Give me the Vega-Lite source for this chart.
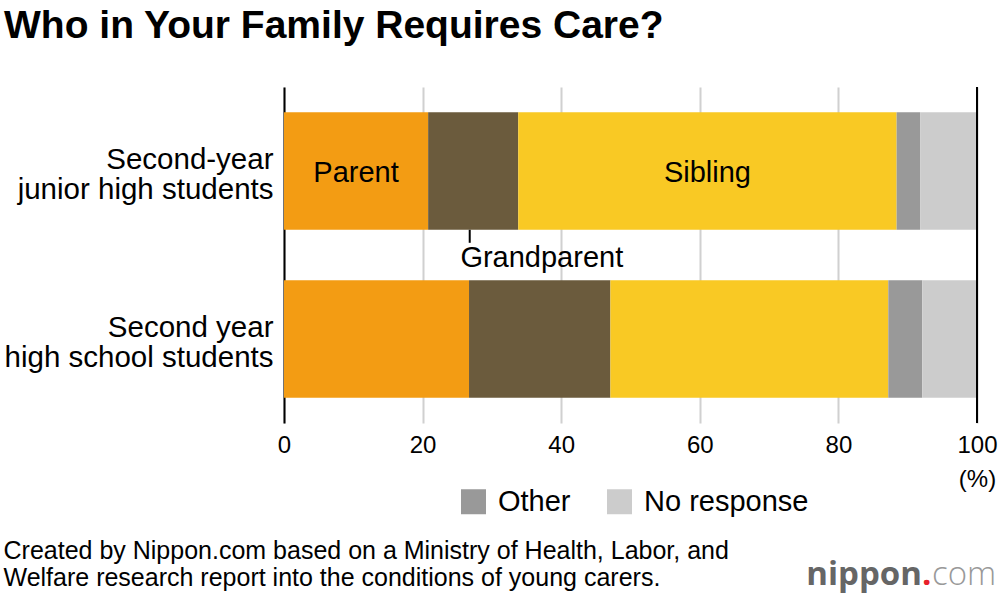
{
  "$schema": "https://vega.github.io/schema/vega-lite/v6.json",
  "width": 693,
  "height": 336,
  "autosize": {"type": "none"},
  "padding": {"left": 284, "top": 87, "right": 23, "bottom": 175},
  "background": "white",
  "title": {
    "text": "Who in Your Family Requires Care?",
    "anchor": "start",
    "frame": "group",
    "dx": -280,
    "offset": 40,
    "font": "Liberation Sans",
    "fontSize": 39,
    "fontWeight": "bold",
    "color": "#000000"
  },
  "config": {
    "view": {"stroke": null},
    "font": "Liberation Sans"
  },
  "datasets": {
    "bars": [
      {"group": "Second-year junior high students", "category": "Parent", "order": 1, "value": 20.8},
      {"group": "Second-year junior high students", "category": "Grandparent", "order": 2, "value": 13.0},
      {"group": "Second-year junior high students", "category": "Sibling", "order": 3, "value": 54.6},
      {"group": "Second-year junior high students", "category": "Other", "order": 4, "value": 3.4},
      {"group": "Second-year junior high students", "category": "No response", "order": 5, "value": 8.2},
      {"group": "Second year high school students", "category": "Parent", "order": 1, "value": 26.7},
      {"group": "Second year high school students", "category": "Grandparent", "order": 2, "value": 20.4},
      {"group": "Second year high school students", "category": "Sibling", "order": 3, "value": 40.1},
      {"group": "Second year high school students", "category": "Other", "order": 4, "value": 4.9},
      {"group": "Second year high school students", "category": "No response", "order": 5, "value": 7.9}
    ],
    "inlabels": [
      {"group": "Second-year junior high students", "label": "Parent", "x": 10.4},
      {"group": "Second-year junior high students", "label": "Sibling", "x": 61.1}
    ],
    "outlabels": [
      {"group": "Second-year junior high students", "label": "Grandparent", "x": 37.2}
    ]
  },
  "layer": [
    {
      "data": {"name": "bars"},
      "mark": {"type": "bar"},
      "encoding": {
        "y": {
          "field": "group",
          "type": "nominal",
          "scale": {
            "domain": ["Second-year junior high students", "Second year high school students"],
            "paddingInner": 0.3,
            "paddingOuter": 0.15
          },
          "axis": {
            "title": null,
            "labelExpr": "datum.value == 'Second-year junior high students' ? ['Second-year', 'junior high students'] : ['Second year', 'high school students']",
            "labelFontSize": 29.5,
            "labelLineHeight": 30,
            "labelPadding": 11,
            "labelOffset": -11,
            "labelLimit": 0,
            "labelColor": "#000000",
            "labelFont": "Liberation Sans",
            "ticks": false,
            "domain": true,
            "domainColor": "#000000",
            "domainWidth": 2
          }
        },
        "x": {
          "field": "value",
          "type": "quantitative",
          "stack": "zero",
          "scale": {"domain": [0, 100], "nice": false},
          "axis": {
            "values": [0, 20, 40, 60, 80, 100],
            "grid": true,
            "gridColor": "#d0d0d0",
            "gridWidth": 2,
            "domain": false,
            "ticks": false,
            "labelFlush": false,
            "labelOverlap": false,
            "labelFontSize": 24,
            "labelPadding": 10,
            "labelColor": "#000000",
            "labelFont": "Liberation Sans",
            "labelLineHeight": 34,
            "labelExpr": "datum.value == 100 ? ['100', '(%)'] : datum.label",
            "title": ["Created by Nippon.com based on a Ministry of Health, Labor, and", "Welfare research report into the conditions of young carers."],
            "titleFont": "Liberation Sans",
            "titleFontSize": 25,
            "titleFontWeight": "normal",
            "titleColor": "#000000",
            "titleAlign": "left",
            "titleAnchor": "start",
            "titleBaseline": "alphabetic",
            "titleLineHeight": 27,
            "titleX": -281,
            "titleY": 135
          }
        },
        "color": {
          "field": "category",
          "type": "nominal",
          "scale": {
            "domain": ["Parent", "Grandparent", "Sibling", "Other", "No response"],
            "range": ["#f39c13", "#6b5b3d", "#f9c924", "#999999", "#cccccc"]
          },
          "legend": {
            "values": ["Other", "No response"],
            "orient": "none",
            "legendX": 175,
            "legendY": 400,
            "direction": "horizontal",
            "title": null,
            "symbolType": "square",
            "symbolSize": 625,
            "symbolStrokeWidth": 0,
            "symbolOpacity": 1,
            "labelFontSize": 29,
            "labelLimit": 0,
            "labelFont": "Liberation Sans",
            "labelColor": "#000000",
            "labelOffset": 10,
            "columnPadding": 34
          }
        },
        "order": {"field": "order", "type": "quantitative"}
      }
    },
    {
      "data": {"values": [{}]},
      "mark": {"type": "rule", "color": "#000000", "strokeWidth": 2},
      "encoding": {"x": {"datum": 100}}
    },
    {
      "data": {"name": "inlabels"},
      "mark": {"type": "text", "fontSize": 29, "font": "Liberation Sans", "color": "#000000", "align": "center", "baseline": "middle", "dy": 2},
      "encoding": {
        "x": {"field": "x", "type": "quantitative"},
        "y": {"field": "group", "type": "nominal"},
        "text": {"field": "label"}
      }
    },
    {
      "data": {"name": "outlabels"},
      "mark": {"type": "text", "fontSize": 29, "font": "Liberation Sans", "color": "#000000", "align": "center", "baseline": "middle", "dy": 87},
      "encoding": {
        "x": {"field": "x", "type": "quantitative"},
        "y": {"field": "group", "type": "nominal"},
        "text": {"field": "label"}
      }
    },
    {
      "data": {"values": [{}]},
      "mark": {"type": "rule", "color": "#000000", "strokeWidth": 2, "y2Offset": 13},
      "encoding": {
        "x": {"datum": 26.8},
        "y": {"datum": "Second-year junior high students", "bandPosition": 1},
        "y2": {"datum": "Second-year junior high students", "bandPosition": 1}
      }
    },
    {
      "data": {"values": [{}]},
      "mark": {"type": "text", "text": "nippon", "font": "Open Sans", "fontWeight": "bold", "fontSize": 33, "color": "#666666", "align": "right", "baseline": "alphabetic", "dx": -55, "dy": 246},
      "encoding": {
        "x": {"datum": 100},
        "y": {"datum": "Second year high school students"}
      }
    },
    {
      "data": {"values": [{}]},
      "mark": {"type": "text", "text": ".", "font": "Open Sans", "fontWeight": "bold", "fontSize": 33, "color": "#e8202a", "align": "left", "baseline": "alphabetic", "dx": -55, "dy": 246},
      "encoding": {
        "x": {"datum": 100},
        "y": {"datum": "Second year high school students"}
      }
    },
    {
      "data": {"values": [{}]},
      "mark": {"type": "text", "text": "com", "font": "Open Sans", "fontWeight": 300, "fontSize": 33, "color": "#999999", "align": "left", "baseline": "alphabetic", "dx": -45, "dy": 246},
      "encoding": {
        "x": {"datum": 100},
        "y": {"datum": "Second year high school students"}
      }
    }
  ]
}
